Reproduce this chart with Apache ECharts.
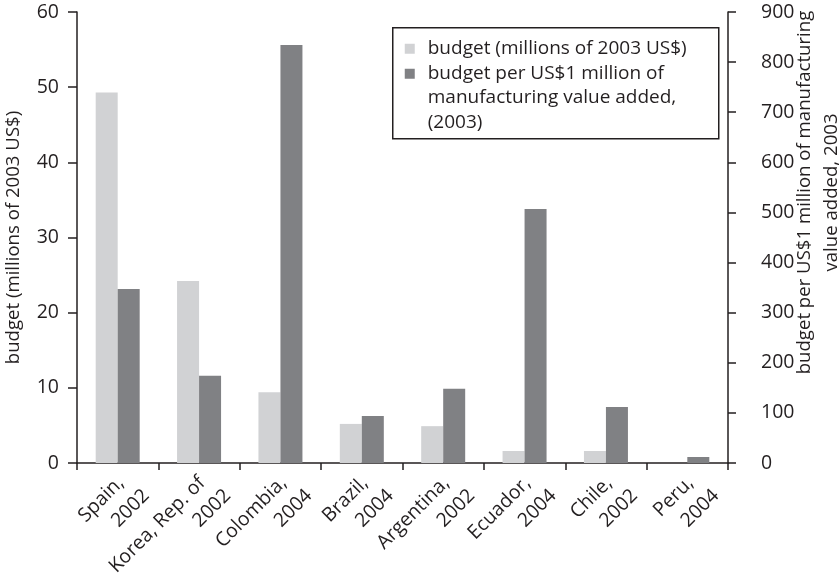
<!DOCTYPE html>
<html>
<head>
<meta charset="utf-8">
<script src="https://cdn.jsdelivr.net/npm/echarts@6/dist/echarts.min.js"></script>
<style>
  html, body { margin: 0; padding: 0; background: #fff; }
  #chart { width: 840px; height: 579px; }
</style>
</head>
<body>
<div id="chart"></div>
<script>
// Categories (country, year of budget)
const categories = [
  'Spain,\n2002', 'Korea, Rep. of\n2002', 'Colombia,\n2004', 'Brazil,\n2004',
  'Argentina,\n2002', 'Ecuador,\n2004', 'Chile,\n2002', 'Peru,\n2004'
];
// Budget, millions of 2003 US$ (left axis)
const budgetMillions = [49.3, 24.2, 9.4, 5.2, 4.9, 1.6, 1.6, 0];
// Budget per US$1 million of manufacturing value added, 2003 (right axis)
const budgetPerMillionMVA = [347, 174, 834, 94, 148, 507, 112, 12];

const seriesNames = [
  'budget (millions of 2003 US$)',
  'budget per US$1 million of\nmanufacturing value added,\n(2003)'
];
const leftAxisName = 'budget (millions of 2003 US$)';
const rightAxisName = 'budget per US$1 million of manufacturing\nvalue added, 2003';

const leftTicks = { min: 0, max: 60, interval: 10 };
const rightTicks = { min: 0, max: 900, interval: 100 };

const LIGHT = '#d1d2d4';
const DARK = '#808184';
const INK = '#231f20';
const FONT = '"Open Sans", "Noto Sans", sans-serif';

const chart = echarts.init(document.getElementById('chart'), null, { renderer: 'canvas' });

const axisLineStyle = { lineStyle: { color: INK, width: 1.5 } };

// Two-line category labels: country on the first line, year on the second
function categoryLabel(value) {
  const parts = value.split('\n');
  return '{a|' + parts[0] + '}\n{b|' + parts[1] + '}';
}

chart.setOption({
  animation: false,
  backgroundColor: '#fff',
  grid: {
    left: 77, right: 112, top: 12, bottom: 116,
    containLabel: false,
    outerBoundsMode: 'none'
  },
  xAxis: {
    type: 'category',
    data: categories,
    boundaryGap: true,
    axisLine: axisLineStyle,
    axisTick: { show: true, length: 7, lineStyle: { color: INK, width: 1.5 } },
    axisLabel: {
      rotate: 45,
      interval: 0,
      margin: 1,
      align: 'right',
      verticalAlign: 'top',
      color: INK,
      fontFamily: FONT,
      fontSize: 19.5,
      formatter: categoryLabel,
      rich: {
        a: { color: INK, fontFamily: FONT, fontSize: 19.5, lineHeight: 27, padding: [0, 9, 0, 0] },
        b: { color: INK, fontFamily: FONT, fontSize: 19.5, lineHeight: 27 }
      }
    }
  },
  yAxis: [
    {
      type: 'value',
      position: 'left',
      min: leftTicks.min, max: leftTicks.max, interval: leftTicks.interval,
      name: leftAxisName,
      nameLocation: 'middle',
      nameGap: 54,
      nameTextStyle: { color: INK, fontFamily: FONT, fontSize: 18.6 },
      axisLine: { show: true, ...axisLineStyle },
      axisTick: { show: true, length: 9, lineStyle: { color: INK, width: 1.5 } },
      axisLabel: { color: INK, fontFamily: FONT, fontSize: 19.5, margin: 18 },
      splitLine: { show: false }
    },
    {
      type: 'value',
      position: 'right',
      min: rightTicks.min, max: rightTicks.max, interval: rightTicks.interval,
      name: rightAxisName,
      nameLocation: 'middle',
      nameGap: 63,
      nameMoveOverlap: false,
      nameTextStyle: {
        color: INK, fontFamily: FONT, fontSize: 18.6, lineHeight: 27,
        padding: [0, 0, 0, 90]
      },
      axisLine: { show: true, ...axisLineStyle },
      axisTick: { show: true, length: 8, lineStyle: { color: INK, width: 1.5 } },
      axisLabel: { color: INK, fontFamily: FONT, fontSize: 19.5, margin: 33, align: 'left' },
      splitLine: { show: false }
    }
  ],
  series: [
    {
      name: seriesNames[0],
      type: 'bar',
      yAxisIndex: 0,
      data: budgetMillions,
      barWidth: 22,
      barGap: '0%',
      itemStyle: { color: LIGHT }
    },
    {
      name: seriesNames[1],
      type: 'bar',
      yAxisIndex: 1,
      data: budgetPerMillionMVA,
      barWidth: 22,
      barGap: '0%',
      itemStyle: { color: DARK }
    }
  ],
  graphic: [
    {
      type: 'group',
      left: 392,
      top: 27,
      children: [
        {
          type: 'rect',
          shape: { x: 0, y: 0, width: 326, height: 111 },
          style: { fill: '#fff', stroke: INK, lineWidth: 1.5 }
        },
        {
          type: 'rect',
          shape: { x: 12, y: 16, width: 10, height: 10 },
          style: { fill: LIGHT }
        },
        {
          type: 'text',
          x: 35, y: 9,
          style: {
            text: seriesNames[0], fill: INK, font: '19px ' + FONT,
            lineHeight: 24.5, verticalAlign: 'top'
          }
        },
        {
          type: 'rect',
          shape: { x: 12, y: 41, width: 10, height: 10 },
          style: { fill: DARK }
        },
        {
          type: 'text',
          x: 35, y: 33.5,
          style: {
            text: seriesNames[1], fill: INK, font: '19px ' + FONT,
            lineHeight: 24.5, verticalAlign: 'top'
          }
        }
      ]
    }
  ]
});
</script>
</body>
</html>
